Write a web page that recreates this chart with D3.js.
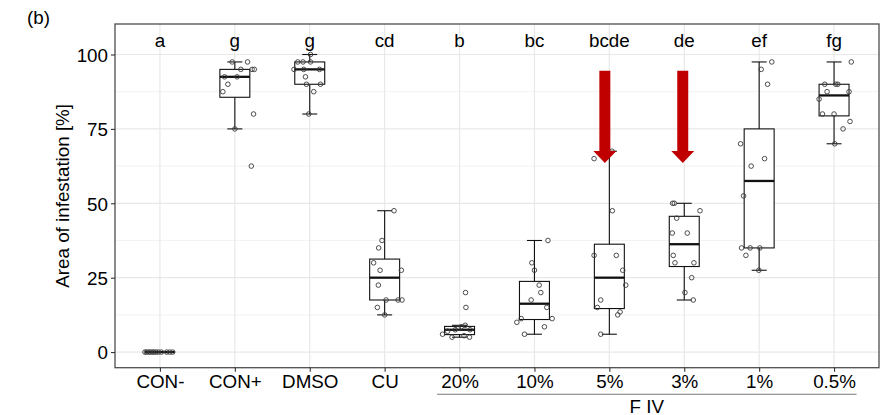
<!DOCTYPE html>
<html>
<head>
<meta charset="utf-8">
<script src="https://cdn.jsdelivr.net/npm/d3@7"></script>
<style>
  html, body { margin: 0; padding: 0; background: #fff; }
  svg { display: block; font-family: "Liberation Sans", Arial, sans-serif; }
</style>
</head>
<body>
<svg id="chart" width="889" height="415"></svg>
<script>
// Treatment groups on the x axis
const categories = ["CON-", "CON+", "DMSO", "CU", "20%", "10%", "5%", "3%", "1%", "0.5%"];
// Significance letters shown above each group
const letters = ["a", "g", "g", "cd", "b", "bc", "bcde", "de", "ef", "fg"];
// Y axis ticks
const yTicks = [0, 25, 50, 75, 100];
const yMinorTicks = [12.5, 37.5, 62.5, 87.5];

// Area of infestation [%] per leaf, one list per group
const values = [
  [0, 0, 0, 0, 0, 0, 0, 0, 0, 0, 0, 0],
  [97.5, 97.5, 95, 95, 95, 92.5, 92.5, 90, 87.5, 80, 75, 62.5],
  [100, 97.5, 97.5, 97.5, 95, 95, 95, 92.5, 90, 90, 87.5, 80],
  [47.5, 37.5, 35, 30, 27.5, 27.5, 22.5, 17.5, 17.5, 17.5, 15, 12.5],
  [5, 5, 5.5, 6, 7, 7.5, 7.5, 8, 8.5, 9, 15, 20],
  [37.5, 30, 27.5, 22.5, 20, 17.5, 15, 11.25, 11.25, 10, 8.5, 6],
  [67.5, 65, 47.5, 32.5, 32.5, 27.5, 22.5, 17.5, 15, 13.5, 12.5, 6],
  [50, 50, 47.5, 45, 40, 40, 32.5, 30, 30, 25, 20, 17.5],
  [97.5, 95, 90, 70, 65, 62.5, 52.5, 35, 35, 35, 32.5, 27.5],
  [97.5, 90, 90, 90, 87.5, 87.5, 85, 80, 80, 77.5, 75, 70]
];
// Horizontal jitter of each point, as a fraction of the category spacing
const jitter = [
  [-0.2, -0.18, -0.15, -0.13, -0.1, -0.08, -0.05, -0.02, 0.02, 0.09, 0.13, 0.17],
  [-0.035, 0.17, 0.08, 0.23, 0.26, -0.137, 0.03, -0.093, -0.16, 0.25, 0.0, 0.22],
  [0.01, -0.16, -0.09, 0.01, -0.21, -0.08, 0.13, -0.057, -0.044, 0.143, 0.053, -0.013],
  [0.125, -0.035, -0.08, -0.147, -0.061, 0.223, -0.084, 0.019, 0.179, 0.232, -0.097, 0.0],
  [-0.1, 0.133, 0.06, -0.227, -0.16, -0.057, 0.14, -0.017, 0.023, 0.076, 0.085, 0.08],
  [0.18, -0.035, 0.0, 0.063, 0.085, -0.044, 0.165, -0.177, 0.236, -0.235, 0.133, -0.133],
  [0.036, -0.204, 0.04, -0.204, 0.093, 0.179, 0.219, -0.115, -0.16, 0.143, 0.112, -0.115],
  [-0.155, -0.133, 0.21, -0.101, -0.16, 0.04, -0.147, -0.124, 0.129, 0.099, 0.009, 0.12],
  [0.169, 0.027, 0.112, -0.248, 0.072, -0.107, -0.208, -0.235, -0.12, 0.009, -0.177, -0.004],
  [0.23, -0.124, 0.023, 0.05, -0.093, 0.2, -0.2, -0.155, 0.0, 0.213, 0.12, 0.009]
];
// Highlight arrows: group, top and tip value, horizontal shift (fraction of spacing)
const arrowCats = ["5%", "3%"];
const arrowTop = [94.5, 94.5];
const arrowTip = [63.5, 63.5];
const arrowShift = [-0.06, -0.02];
// Bracket grouping the F IV dilutions
const bracketCats = ["20%", "0.5%"];
const bracketLabel = "F IV";

const svg = d3.select("#chart");
const panel = { left: 115, right: 879, top: 24, bottom: 367.7 };

const x = d3.scalePoint().domain(categories).range([panel.left, panel.right]).padding(0.6);
const y = d3.scaleLinear().domain([-5.25, 110.25]).range([panel.bottom, panel.top]);
const step = x.step();
const boxW = 0.4 * step;
const capW = 0.2 * step;
const fontSize = 18.8;

// Panel background grid
const grid = svg.append("g");
grid.selectAll("line.minor").data(yMinorTicks).join("line")
  .attr("x1", panel.left).attr("x2", panel.right)
  .attr("y1", d => y(d)).attr("y2", d => y(d))
  .attr("stroke", "#ededed").attr("stroke-width", 0.7);
grid.selectAll("line.major").data(yTicks).join("line")
  .attr("x1", panel.left).attr("x2", panel.right)
  .attr("y1", d => y(d)).attr("y2", d => y(d))
  .attr("stroke", "#e8e8e8").attr("stroke-width", 1.2);
grid.selectAll("line.vx").data(categories).join("line")
  .attr("x1", d => x(d)).attr("x2", d => x(d))
  .attr("y1", panel.top).attr("y2", panel.bottom)
  .attr("stroke", "#e8e8e8").attr("stroke-width", 1.2);

// Box statistics (Tukey whiskers at 1.5 IQR)
function boxStats(v) {
  const s = v.slice().sort(d3.ascending);
  const q1 = d3.quantileSorted(s, 0.25), med = d3.quantileSorted(s, 0.5), q3 = d3.quantileSorted(s, 0.75);
  const iqr = q3 - q1;
  const lo = d3.min(s.filter(d => d >= q1 - 1.5 * iqr));
  const hi = d3.max(s.filter(d => d <= q3 + 1.5 * iqr));
  return { q1, med, q3, lo, hi };
}

const boxes = svg.append("g");
categories.forEach((c, i) => {
  const st = boxStats(values[i]);
  const cx = x(c);
  const g = boxes.append("g").attr("stroke", "#111").attr("fill", "none");
  g.append("line").attr("x1", cx).attr("x2", cx).attr("y1", y(st.hi)).attr("y2", y(st.q3)).attr("stroke-width", 1.1);
  g.append("line").attr("x1", cx).attr("x2", cx).attr("y1", y(st.q1)).attr("y2", y(st.lo)).attr("stroke-width", 1.1);
  g.append("line").attr("x1", cx - capW / 2).attr("x2", cx + capW / 2).attr("y1", y(st.hi)).attr("y2", y(st.hi)).attr("stroke-width", 1.1);
  g.append("line").attr("x1", cx - capW / 2).attr("x2", cx + capW / 2).attr("y1", y(st.lo)).attr("y2", y(st.lo)).attr("stroke-width", 1.1);
  g.append("rect").attr("x", cx - boxW / 2).attr("width", boxW)
    .attr("y", y(st.q3)).attr("height", Math.max(0, y(st.q1) - y(st.q3)))
    .attr("fill", "#fff").attr("stroke-width", 1.1);
  g.append("line").attr("x1", cx - boxW / 2).attr("x2", cx + boxW / 2).attr("y1", y(st.med)).attr("y2", y(st.med)).attr("stroke-width", 2.3);
});

// Individual observations
const pts = svg.append("g");
categories.forEach((c, i) => {
  pts.selectAll(null).data(values[i].map((v, k) => ({ v, j: jitter[i][k] }))).join("circle")
    .attr("cx", d => x(c) + d.j * step)
    .attr("cy", d => y(d.v))
    .attr("r", 2.3)
    .attr("fill", "none")
    .attr("stroke", "#3a3a3a")
    .attr("stroke-width", 0.9);
});

// Red arrows pointing at highlighted groups
const arrows = svg.append("g");
arrowCats.forEach((c, i) => {
  const cx = x(c) + arrowShift[i] * step;
  const yt = y(arrowTop[i]), yp = y(arrowTip[i]);
  const headLen = 12, shaftHalf = 5.5, headHalf = 11.5;
  const path = d3.path();
  path.moveTo(cx - shaftHalf, yt);
  path.lineTo(cx + shaftHalf, yt);
  path.lineTo(cx + shaftHalf, yp - headLen);
  path.lineTo(cx + headHalf, yp - headLen);
  path.lineTo(cx, yp);
  path.lineTo(cx - headHalf, yp - headLen);
  path.lineTo(cx - shaftHalf, yp - headLen);
  path.closePath();
  arrows.append("path").attr("d", path.toString()).attr("fill", "#c00000");
});

// Significance letters
svg.append("g").selectAll("text").data(categories).join("text")
  .attr("x", d => x(d)).attr("y", y(105)).attr("dy", "0.41em")
  .attr("text-anchor", "middle").attr("font-size", fontSize).attr("fill", "#000")
  .text((d, i) => letters[i]);

// Panel border
svg.append("rect")
  .attr("x", panel.left).attr("y", panel.top)
  .attr("width", panel.right - panel.left).attr("height", panel.bottom - panel.top)
  .attr("fill", "none").attr("stroke", "#4d4d4d").attr("stroke-width", 1.3);

// Axes
const yAxis = svg.append("g").attr("transform", `translate(${panel.left},0)`)
  .call(d3.axisLeft(y).tickValues(yTicks).tickSize(4).tickPadding(3));
const xAxis = svg.append("g").attr("transform", `translate(0,${panel.bottom})`)
  .call(d3.axisBottom(x).tickSize(4).tickPadding(3));
[yAxis, xAxis].forEach(a => {
  a.select(".domain").remove();
  a.selectAll(".tick line").attr("stroke", "#333").attr("stroke-width", 1.1);
  a.selectAll(".tick text").attr("font-size", fontSize).attr("fill", "#000")
    .attr("font-family", "'Liberation Sans', Arial, sans-serif");
});
yAxis.selectAll(".tick text").attr("dy", "0.36em");
xAxis.selectAll(".tick text").attr("y", 20.6).attr("dy", 0);

// Axis title
svg.append("text")
  .attr("transform", `translate(69,${(panel.top + panel.bottom) / 2}) rotate(-90)`)
  .attr("text-anchor", "middle").attr("font-size", fontSize).attr("fill", "#000")
  .text("Area of infestation [%]");

// Panel tag
svg.append("text").attr("x", 27).attr("y", 24)
  .attr("font-size", fontSize).attr("fill", "#000").text("(b)");

// Bracket under the F IV concentrations
const bx1 = x(bracketCats[0]) - 0.3 * step, bx2 = x(bracketCats[1]) + 0.3 * step;
svg.append("line").attr("x1", bx1).attr("x2", bx2).attr("y1", 394.3).attr("y2", 394.3)
  .attr("stroke", "#777").attr("stroke-width", 1.1);
svg.append("text").attr("x", (bx1 + bx2) / 2).attr("y", 412.5)
  .attr("text-anchor", "middle").attr("font-size", fontSize).attr("fill", "#000").text(bracketLabel);
</script>
</body>
</html>
